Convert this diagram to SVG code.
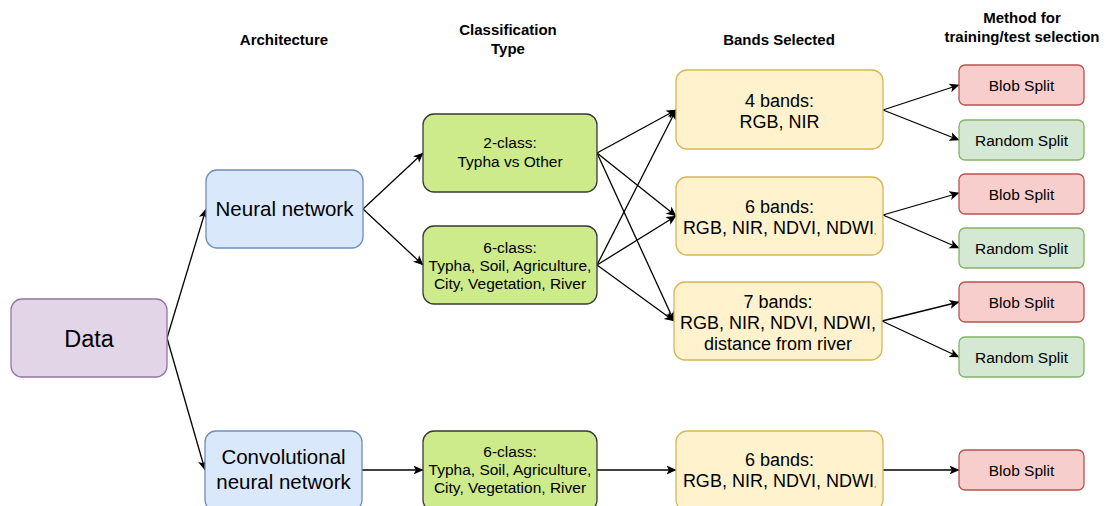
<svg xmlns="http://www.w3.org/2000/svg" width="1108" height="506" viewBox="0 0 1108 506">
  <defs>
    <marker id="arrow" viewBox="0 0 10 10" refX="9.5" refY="5" markerWidth="10" markerHeight="10" markerUnits="userSpaceOnUse" orient="auto">
      <path d="M0,0.5 L10,5 L0,9.5 L2.5,5 z" fill="#000"/>
    </marker>
    <style>
      text { font-family: "Liberation Sans", Arial, Helvetica, sans-serif; fill: #000; text-anchor: middle; }
      .hdr { font-weight: bold; font-size: 15px; }
      .data { fill: #e1d5e7; stroke: #9673a6; stroke-width: 1.3; }
      .arch { fill: #dae8fc; stroke: #6c8ebf; stroke-width: 1.3; }
      .cls { fill: #cdeb8b; stroke: #36393d; stroke-width: 1.3; }
      .band { fill: #fff2cc; stroke: #d6b656; stroke-width: 1.3; }
      .blob { fill: #f8cecc; stroke: #b85450; stroke-width: 1.3; }
      .rand { fill: #d5e8d4; stroke: #82b366; stroke-width: 1.3; }
      .t-cls { font-size: 15.5px; }
      .t-band { font-size: 18px; }
      .t-split { font-size: 15.5px; }
      .t-arch { font-size: 20.5px; }
      .edges path { fill: none; stroke: #000; stroke-width: 1.3; marker-end: url(#arrow); }
    </style>
  </defs>

  <!-- column headers -->
  <g id="headers">
    <text class="hdr" x="284" y="45">Architecture</text>
    <text class="hdr" x="508" y="35">Classification</text>
    <text class="hdr" x="508" y="54">Type</text>
    <text class="hdr" x="779" y="45">Bands Selected</text>
    <text class="hdr" x="1022" y="23">Method for</text>
    <text class="hdr" x="1022" y="42">training/test selection</text>
  </g>

  <!-- connectors -->
  <g id="connectors" class="edges">
    <path d="M167,338 L206,209"/>
    <path d="M167,338 L205,470"/>
    <path d="M363,209 L423,153"/>
    <path d="M363,209 L423,265"/>
    <path d="M597,153 L676,110"/>
    <path d="M597,153 L676,216"/>
    <path d="M597,153 L674,321"/>
    <path d="M597,265 L676,110"/>
    <path d="M597,265 L676,216"/>
    <path d="M597,265 L674,321"/>
    <path d="M883,110 L959,85"/>
    <path d="M883,110 L959,140"/>
    <path d="M883,215 L959,193"/>
    <path d="M883,215 L959,248"/>
    <path d="M882,321 L959,302"/>
    <path d="M882,321 L959,357"/>
    <path d="M362,470 L423,470"/>
    <path d="M597,470 L676,470"/>
    <path d="M883,470 L959,470"/>
  </g>

  <g id="data">
    <rect class="data" x="11" y="299" width="156" height="78" rx="11"/>
    <text x="89" y="347" font-size="23.5">Data</text>
  </g>

  <g id="neural-network">
    <rect class="arch" x="206" y="170" width="157" height="78" rx="11"/>
    <text class="t-arch" x="284.5" y="216">Neural network</text>
  </g>

  <g id="cnn">
    <rect class="arch" x="205" y="431" width="157" height="80" rx="11"/>
    <text class="t-arch" x="283.5" y="464">Convolutional</text>
    <text class="t-arch" x="283.5" y="489">neural network</text>
  </g>

  <g id="two-class">
    <rect class="cls" x="423" y="114" width="174" height="78" rx="11"/>
    <text class="t-cls" x="510" y="148">2-class:</text>
    <text class="t-cls" x="510" y="167">Typha vs Other</text>
  </g>

  <g id="six-class">
    <rect class="cls" x="423" y="226" width="174" height="78" rx="11"/>
    <text class="t-cls" x="510" y="253">6-class:</text>
    <text class="t-cls" x="510" y="271">Typha, Soil, Agriculture,</text>
    <text class="t-cls" x="510" y="289">City, Vegetation, River</text>
  </g>

  <g id="cnn-six-class">
    <rect class="cls" x="423" y="431" width="174" height="80" rx="11"/>
    <text class="t-cls" x="510" y="457">6-class:</text>
    <text class="t-cls" x="510" y="475">Typha, Soil, Agriculture,</text>
    <text class="t-cls" x="510" y="493">City, Vegetation, River</text>
  </g>

  <g id="bands-4">
    <rect class="band" x="676" y="70" width="207" height="79" rx="11"/>
    <text class="t-band" x="779.5" y="107">4 bands:</text>
    <text class="t-band" x="779.5" y="128">RGB, NIR</text>
  </g>

  <g id="bands-6">
    <rect class="band" x="676" y="177" width="207" height="78" rx="11"/>
    <text class="t-band" x="779.5" y="213">6 bands:</text>
    <text class="t-band" x="779.5" y="234">RGB, NIR, NDVI, NDWI<tspan font-size="8">,</tspan></text>
  </g>

  <g id="bands-7">
    <rect class="band" x="674" y="282" width="208" height="78" rx="11"/>
    <text class="t-band" x="778" y="308">7 bands:</text>
    <text class="t-band" x="778" y="329">RGB, NIR, NDVI, NDWI,</text>
    <text class="t-band" x="778" y="350">distance from river</text>
  </g>

  <g id="cnn-bands-6">
    <rect class="band" x="676" y="431" width="207" height="80" rx="11"/>
    <text class="t-band" x="779.5" y="466">6 bands:</text>
    <text class="t-band" x="779.5" y="487">RGB, NIR, NDVI, NDWI<tspan font-size="8">,</tspan></text>
  </g>

  <g id="blob-1">
    <rect class="blob" x="959" y="65" width="125" height="40" rx="6"/>
    <text class="t-split" x="1021.5" y="90.5">Blob Split</text>
  </g>
  <g id="random-1">
    <rect class="rand" x="959" y="120" width="125" height="40" rx="6"/>
    <text class="t-split" x="1021.5" y="145.5">Random Split</text>
  </g>
  <g id="blob-2">
    <rect class="blob" x="959" y="174" width="125" height="40" rx="6"/>
    <text class="t-split" x="1021.5" y="199.5">Blob Split</text>
  </g>
  <g id="random-2">
    <rect class="rand" x="959" y="228" width="125" height="40" rx="6"/>
    <text class="t-split" x="1021.5" y="253.5">Random Split</text>
  </g>
  <g id="blob-3">
    <rect class="blob" x="959" y="282" width="125" height="40" rx="6"/>
    <text class="t-split" x="1021.5" y="307.5">Blob Split</text>
  </g>
  <g id="random-3">
    <rect class="rand" x="959" y="337" width="125" height="40" rx="6"/>
    <text class="t-split" x="1021.5" y="362.5">Random Split</text>
  </g>
  <g id="cnn-blob">
    <rect class="blob" x="959" y="450" width="125" height="40" rx="6"/>
    <text class="t-split" x="1021.5" y="475.5">Blob Split</text>
  </g>
</svg>
